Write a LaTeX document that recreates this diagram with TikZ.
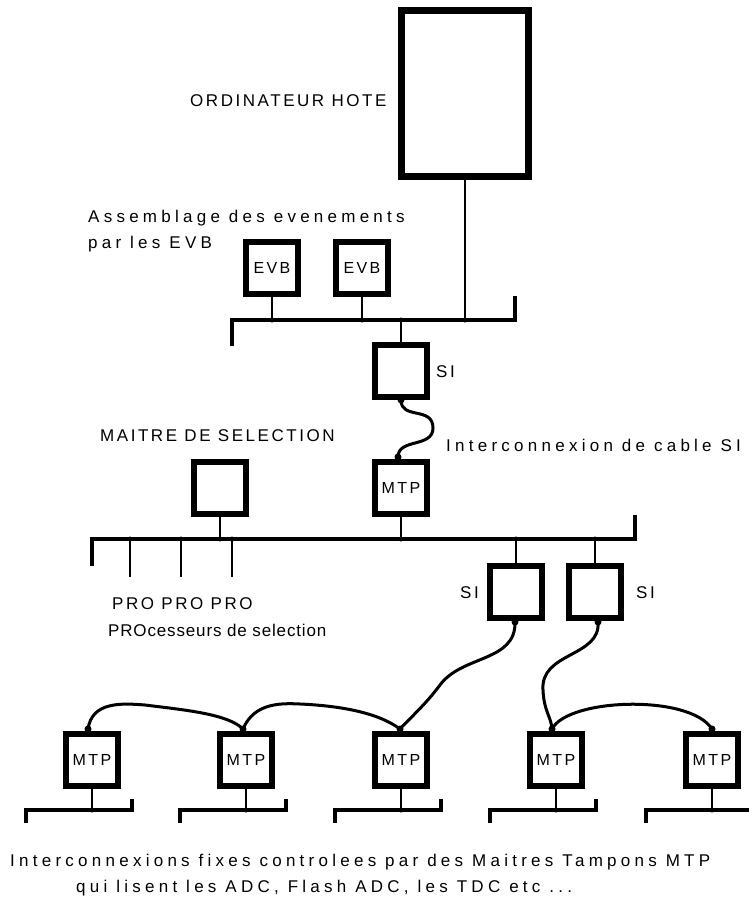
\documentclass[tikz,border=0pt]{standalone}
\usepackage{fontspec}
\setmainfont{Liberation Sans}
\newfontfamily\plotA{Liberation Sans}[LetterSpace=15]
\newfontfamily\plotB{Liberation Sans}[LetterSpace=25]
\newfontfamily\plotC{Liberation Sans}[LetterSpace=5]
\begin{document}
\begin{tikzpicture}[x=1pt,y=-1pt,
  box/.style={draw, line width=6.5pt, minimum width=52pt, minimum height=52pt, inner sep=0pt, font=\plotA\fontsize{16}{18}\selectfont},
  bus/.style={line width=4.5pt, line join=miter},
  stub/.style={line width=1.3pt},
  cable/.style={line width=3pt, line cap=round},
  jdot/.style={circle, fill, inner sep=0pt, minimum size=5pt},
  cdot/.style={circle, fill, inner sep=0pt, minimum size=7pt},
  capt/.style={inner sep=0pt, anchor=base west, font=\plotA\fontsize{17}{19}\selectfont},
  lowt/.style={inner sep=0pt, anchor=base west, font=\plotB\fontsize{17}{19}\selectfont},
  tightt/.style={inner sep=0pt, anchor=base west, font=\plotC\fontsize{17}{19}\selectfont},
]
\useasboundingbox (0,0) rectangle (749,902);

% ---------------- top level ----------------
\node[draw, line width=7pt, minimum width=127pt, minimum height=166pt, inner sep=0pt] (host) at (465,93.5) {};
\node[capt] (hostlab) at (190,106) {ORDINATEUR HOTE};
\node[lowt] (asm1) at (88,222) {Assemblage des evenements};
\node[lowt] (asm2) at (88,248) {par les EVB};

\node[box] (evb1) at (272,268) {EVB};
\node[box] (evb2) at (362,268) {EVB};
\node[box] (si0) at (401,371) {};
\node[capt] (si0lab) at (436,377) {SI};

\coordinate (tbA) at (232,346);
\coordinate (tbB) at (232,320);
\coordinate (tbC) at (515,320);
\coordinate (tbD) at (515,296);
\draw[bus] (tbA) -- (tbB) -- (tbC) -- (tbD);

\draw[stub] (evb1.south) -- (evb1.south |- tbB) node[jdot] (j1) {};
\draw[stub] (evb2.south) -- (evb2.south |- tbB) node[jdot] (j2) {};
\draw[stub] (si0.north) -- (si0.north |- tbB) node[jdot] (j3) {};
\draw[stub] (host.south) -- (host.south |- tbB) node[jdot] (j4) {};

% ---------------- middle level ----------------
\node[capt] (msl) at (100,441) {MAITRE DE SELECTION};
\node[lowt] (icl) at (446,451) {Interconnexion de cable SI};
\node[box] (sel) at (220,488) {};
\node[box] (mtp0) at (401,488) {MTP};
\node[box] (sia) at (516,592) {};
\node[box] (sib) at (595,592) {};
\node[capt] (sialab) at (460,598) {SI};
\node[capt] (siblab) at (636,598) {SI};

\coordinate (mbA) at (92,566);
\coordinate (mbB) at (92,539);
\coordinate (mbC) at (635,539);
\coordinate (mbD) at (635,515);
\draw[bus] (mbA) -- (mbB) -- (mbC) -- (mbD);

\draw[stub] (sel.south) -- (sel.south |- mbB) node[jdot] {};
\draw[stub] (mtp0.south) -- (mtp0.south |- mbB) node[jdot] {};
\draw[stub] (sia.north) -- (sia.north |- mbB) node[jdot] {};
\draw[stub] (sib.north) -- (sib.north |- mbB) node[jdot] {};

\coordinate (p1) at (130,577);
\coordinate (p2) at (181,577);
\coordinate (p3) at (232,577);
\draw[stub] (p1) -- (p1 |- mbB) node[jdot] {};
\draw[stub] (p2) -- (p2 |- mbB) node[jdot] {};
\draw[stub] (p3) -- (p3 |- mbB) node[jdot] {};
\node[capt] (prol) at (112,609) {PRO PRO PRO};
\node[tightt] (procl) at (108,636) {PROcesseurs de selection};

% cable SI -> MTP (middle)
\coordinate (c0a) at (401,400);
\coordinate (c0b) at (398,457);
\draw[cable] (c0a) .. controls (401,420) and (433,406) .. (433,428) .. controls (433,448) and (398,438) .. (c0b);
\node[cdot] at (c0a) {};
\node[cdot] at (c0b) {};

% ---------------- bottom level ----------------
\foreach \n/\cx in {1/92,2/246,3/401,4/556,5/712}{
  \node[box] (m\n) at (\cx,760) {MTP};
  \draw[bus] (\cx-66,823) -- (\cx-66,810) -- (\cx+40,810) -- (\cx+40,799);
  \draw[stub] (m\n.south) -- (m\n.south |- 0,810) node[jdot] {};
}

\coordinate (k1) at (88,729);
\coordinate (k2) at (243,729);
\coordinate (k3) at (400,729);
\coordinate (k4) at (552,729);
\coordinate (k5) at (712,729);
\coordinate (sa) at (515,622);
\coordinate (sb) at (598,622);

\draw[cable] (k1) .. controls (92,702) and (120,703) .. (145,705) .. controls (185,710) and (228,714) .. (k2);
\draw[cable] (k2) .. controls (254,703) and (280,703) .. (300,704) .. controls (345,706) and (380,714) .. (k3);
\draw[cable] (sa) .. controls (516,662) and (462,655) .. (440,685) .. controls (425,705) and (412,716) .. (k3);
\draw[cable] (sb) .. controls (601,657) and (540,652) .. (543,690) .. controls (544,712) and (551,716) .. (k4);
\draw[cable] (k4) .. controls (568,698) and (690,694) .. (k5);
\foreach \p in {k1,k2,k3,k4,k5,sa,sb}{ \node[cdot] at (\p) {}; }

\node[lowt] (bot1) at (10,866) {Interconnexions fixes controlees par des Maitres Tampons MTP};
\node[lowt] (bot2) at (76,892) {qui lisent les ADC, Flash ADC, les TDC etc ...};
\end{tikzpicture}
\end{document}
